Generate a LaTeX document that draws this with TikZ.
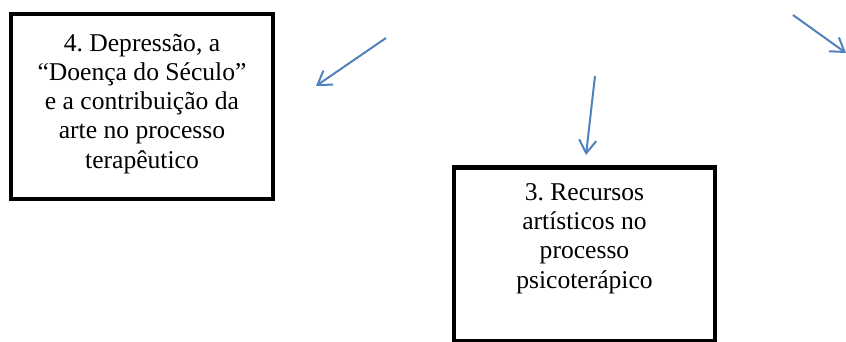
\documentclass[tikz,border=0pt]{standalone}
\usepackage{fontspec}
\setmainfont{Liberation Serif}
\usetikzlibrary{arrows.meta}
\frenchspacing
\definecolor{arrowblue}{HTML}{4F81BD}
\tikzset{
  box/.style={draw=black, line width=4.5pt, rectangle, inner sep=0pt},
  label/.style={align=center, font=\fontsize{25.6}{29.2}\selectfont\frenchspacing, inner sep=0pt},
  conn/.style={draw=arrowblue, line width=2pt, -{Straight Barb[length=13pt,width=17pt]}}
}
\begin{document}
\begin{tikzpicture}[x=1pt,y=-1pt]
\useasboundingbox (0,0) rectangle (846,342);
% box 4
\node[box, minimum width=262pt, minimum height=185pt] (b4) at (142,106.5) {};
\node[label, anchor=base] (t4) at (142,168) {4. Depressão, a\\“Doença do Século”\\e a contribuição da\\arte no processo\\terapêutico};
% box 3
\node[box, minimum width=261pt, minimum height=174pt] (b3) at (584.5,254.5) {};
\node[label, anchor=base] (t3) at (584.5,288) {3. Recursos\\artísticos no\\processo\\psicoterápico};
% arrows
\coordinate (a1s) at (386,38);
\coordinate (a1e) at (316,86);
\coordinate (a2s) at (595,76);
\coordinate (a2e) at (586,155);
\coordinate (a3s) at (793,15);
\coordinate (a3e) at (846,53);
\draw[conn] (a1s) -- (a1e);
\draw[conn] (a2s) -- (a2e);
\draw[conn] (a3s) -- (a3e);
\end{tikzpicture}
\end{document}
